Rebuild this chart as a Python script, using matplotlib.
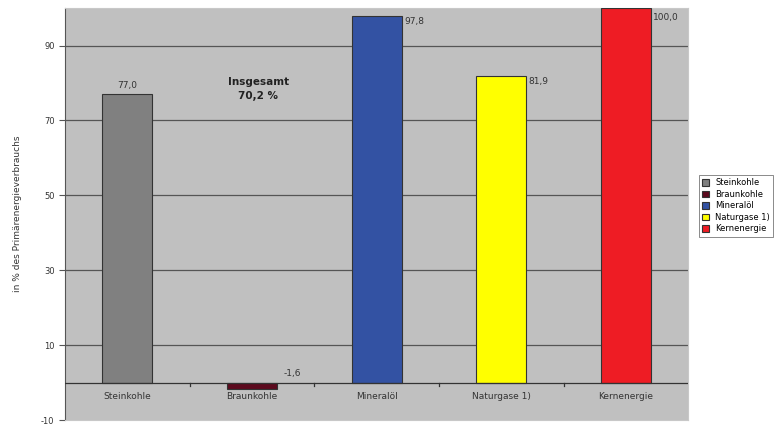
import numpy as np
import matplotlib.pyplot as plt

categories = ["Steinkohle", "Braunkohle", "Mineralöl", "Naturgase 1)", "Kernenergie"]
values = [77.0, -1.6, 97.8, 81.9, 100.0]
labels = ["77,0", "-1,6", "97,8", "81,9", "100,0"]
colors = ["#808080", "#5c0a1e", "#3352a3", "#ffff00", "#ee1c24"]
yticks = [-10, 10, 30, 50, 70, 90]

fig = plt.figure(figsize=(7.83, 4.26), dpi=100)
ax = fig.add_axes([0.083, 0.014, 0.796, 0.967])
ax.set_facecolor("#c0c0c0")

x = np.arange(len(categories))
for i in x:
    ax.bar(i, values[i], width=0.4, color=colors[i], edgecolor="#333333",
           linewidth=0.8, label=categories[i], zorder=3)

for y in [10, 30, 50, 70, 90]:
    ax.axhline(y, color="#555555", linewidth=0.9, zorder=1)
ax.axhline(0, color="#333333", linewidth=0.9, zorder=4)
for b in x[:-1] + 0.5:
    ax.plot([b, b], [0, -0.8], color="#333333", linewidth=0.9, zorder=4)

ax.set_xlim(-0.5, 4.5)
ax.set_ylim(-10, 100)
ax.set_yticks(yticks)
ax.set_yticklabels([str(t) for t in yticks], fontsize=6, color="#333333")
ax.set_xticks([])
ax.tick_params(axis="y", length=4, color="#555555")
for s in ["top", "right", "bottom"]:
    ax.spines[s].set_color("#c8c8c8")
ax.spines["left"].set_color("#555555")

for i in x:
    ax.text(i, -2.5, categories[i], ha="center", va="top", fontsize=6.5,
            color="#333333", zorder=5)

ax.text(0, values[0] + 1.2, labels[0], ha="center", va="bottom", fontsize=6.5, color="#333333")
ax.text(1.25, 1.2, labels[1], ha="left", va="bottom", fontsize=6.5, color="#333333")
ax.text(2.22, values[2] - 0.3, labels[2], ha="left", va="top", fontsize=6.5, color="#333333")
ax.text(3.22, values[3] - 0.3, labels[3], ha="left", va="top", fontsize=6.5, color="#333333")
ax.text(4.22, values[4] - 1.3, labels[4], ha="left", va="top", fontsize=6.5, color="#333333")

ax.text(1.05, 78.5, "Insgesamt\n70,2 %", ha="center", va="center", fontsize=7.5,
        fontweight="bold", color="#222222", linespacing=1.5)

ax.set_ylabel("in % des Primärenergieverbrauchs", fontsize=6.5, color="#333333", labelpad=14)

leg = ax.legend(loc="center left", bbox_to_anchor=(1.01, 0.52), fontsize=6,
                frameon=True, fancybox=False, edgecolor="#555555",
                handlelength=0.8, handleheight=0.8, borderpad=0.4, labelspacing=0.3,
                handletextpad=0.8)
leg.get_frame().set_linewidth(0.6)

fig.savefig("out.png", dpi=100)
